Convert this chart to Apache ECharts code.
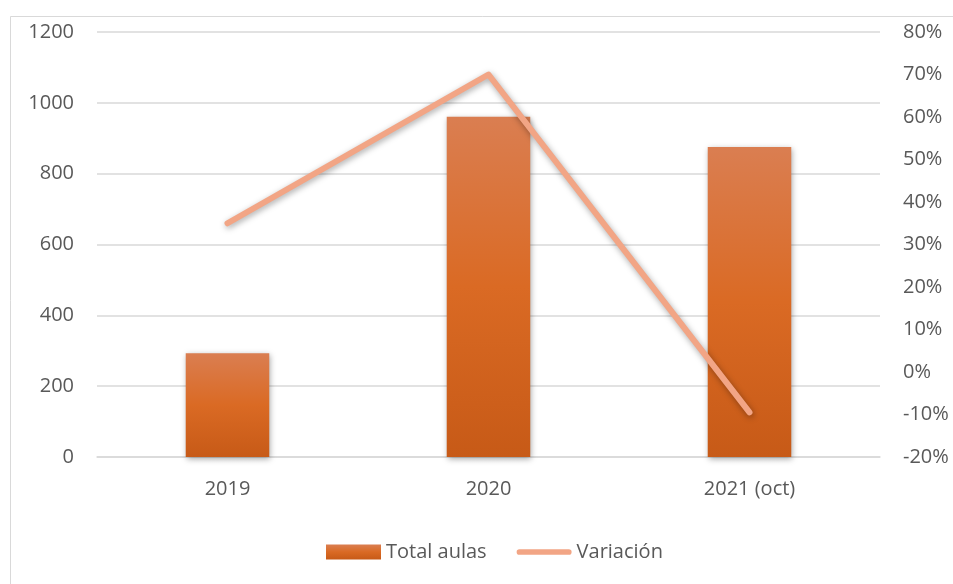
<!DOCTYPE html>
<html>
<head>
<meta charset="utf-8">
<script src="https://cdn.jsdelivr.net/npm/echarts@6/dist/echarts.min.js"></script>
<style>html,body{margin:0;padding:0;background:#fff;}#c{width:953px;height:584px;}</style>
</head>
<body>
<div id="c"></div>
<script>
const categories = ['2019', '2020', '2021 (oct)'];
const totalAulas = [293, 961, 875];
const variacion = [35, 70, -9.5];
const leftTicks = [0, 1200, 200];
const rightTicks = [-20, 80, 10];

const chart = echarts.init(document.getElementById('c'), null, {renderer: 'canvas'});
const font = '"Open Sans", "Liberation Sans", sans-serif';
const txt = '#595959';
chart.setOption({
  animation: false,
  backgroundColor: '#fff',
  graphic: [{
    type: 'rect', left: 8, top: 14, silent: true,
    shape: {x: 0.5, y: 0.5, width: 1000, height: 700},
    style: {fill: 'none', stroke: '#d9d9d9', lineWidth: 1}
  }],
  grid: {left: 97, right: 73, top: 32, bottom: 127},
  legend: {
    bottom: 17, left: 321,
    itemWidth: 55, itemHeight: 15, itemGap: 30,
    textStyle: {color: txt, fontSize: 20, fontFamily: font},
    data: [
      {name: 'Total aulas', icon: 'rect'},
      {name: 'Variación', icon: 'path://M3,0 L55,0 A3,3 0 0 1 55,6 L3,6 A3,3 0 0 1 3,0 Z'}
    ]
  },
  xAxis: {
    type: 'category', data: categories,
    axisLine: {lineStyle: {color: '#d9d9d9', width: 1.5}},
    axisTick: {show: false},
    axisLabel: {color: txt, fontSize: 20, fontFamily: font, margin: 22}
  },
  yAxis: [{
    type: 'value', min: leftTicks[0], max: leftTicks[1], interval: leftTicks[2],
    axisLine: {show: false}, axisTick: {show: false},
    splitLine: {lineStyle: {color: '#d9d9d9', width: 1.5}},
    axisLabel: {color: txt, fontSize: 20, fontFamily: font, margin: 23, formatter: v => String(v)}
  }, {
    type: 'value', min: rightTicks[0], max: rightTicks[1], interval: rightTicks[2],
    axisLine: {show: false}, axisTick: {show: false}, splitLine: {show: false},
    axisLabel: {color: txt, fontSize: 20, fontFamily: font, margin: 23, formatter: '{value}%'}
  }],
  series: [{
    name: 'Total aulas', type: 'bar', data: totalAulas, barWidth: '32%',
    itemStyle: {
      color: new echarts.graphic.LinearGradient(0, 0, 0, 1, [
        {offset: 0, color: '#DA7E51'},
        {offset: 0.5, color: '#DA6A24'},
        {offset: 1, color: '#C75A17'}
      ]),
      shadowBlur: 6, shadowColor: 'rgba(0,0,0,0.35)', shadowOffsetX: 1, shadowOffsetY: 2
    }
  }, {
    name: 'Variación', type: 'line', yAxisIndex: 1, data: variacion,
    symbol: 'none', color: '#F2A585', itemStyle: {color: '#F2A585'},
    lineStyle: {color: '#F2A585', width: 6, cap: 'round', join: 'round',
      shadowBlur: 6, shadowColor: 'rgba(0,0,0,0.35)', shadowOffsetX: 1, shadowOffsetY: 2}
  }]
});
</script>
</body>
</html>
